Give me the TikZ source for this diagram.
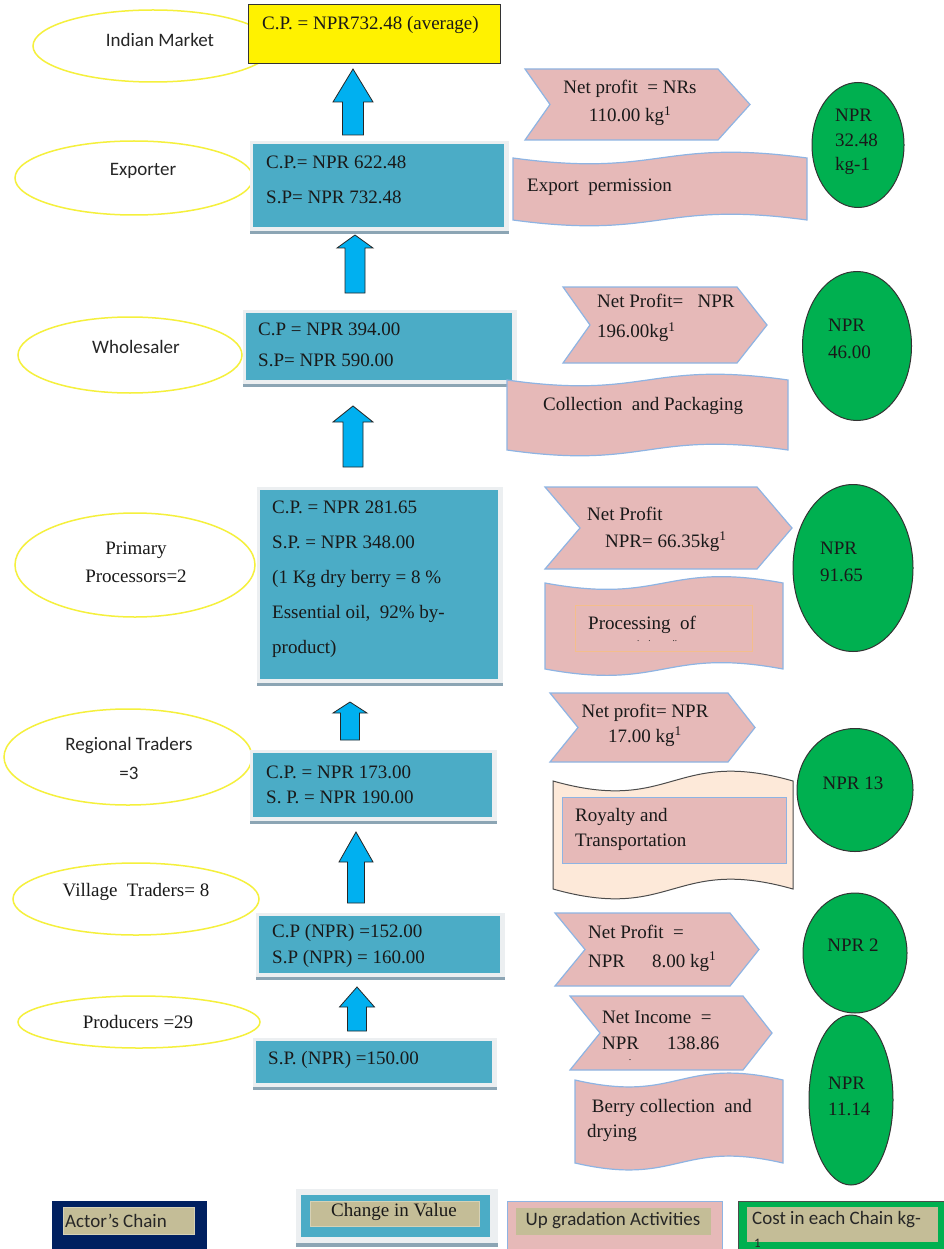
\documentclass[tikz,border=0pt]{standalone}
\usepackage{fontspec}
\setmainfont{Liberation Serif}
\newfontfamily\calib{Carlito}
\usetikzlibrary{shapes.geometric}
\definecolor{boxblue}{RGB}{75,172,198}
\definecolor{arrblue}{RGB}{0,176,240}
\definecolor{pinkf}{RGB}{230,185,184}
\definecolor{pinkl}{RGB}{142,180,227}
\definecolor{greenf}{RGB}{0,176,80}
\definecolor{yellowl}{RGB}{245,240,60}
\definecolor{peach}{RGB}{253,233,217}
\definecolor{navy}{RGB}{0,32,96}
\definecolor{tanf}{RGB}{196,189,151}
\definecolor{framec}{RGB}{236,239,241}
\definecolor{shadowc}{RGB}{140,165,180}
\definecolor{orangel}{RGB}{244,190,140}
\newcommand\fs[1]{\fontsize{19}{#1}\selectfont}
\newcommand\bbox[5]{%
  \fill[framec] ({#2-3},{#3-3}) rectangle ({#4+5},{#5+7});
  \fill[shadowc] ({#2-3},{#5+4}) rectangle ({#4+5},{#5+7});
  \node[bluebox,anchor=north west,minimum width={#4-#2},minimum height={#5-#3}] (#1) at (#2,#3) {};}
\newcommand\blockarrow[6]{%
  \draw[arrowst] ({#1-#6},#4) -- ({#1-#6},#3) -- ({#1-#5},#3) -- (#1,#2) -- ({#1+#5},#3) -- ({#1+#6},#3) -- ({#1+#6},#4) -- cycle;}
\newcommand\chev[6]{%
  \draw[chevst] (#1,#2) -- (#6,#2) -- (#5,{(#2+#3)/2}) -- (#6,#3) -- (#1,#3) -- (#4,{(#2+#3)/2}) -- cycle;}
\newcommand\wave[6]{%
  \draw[#6] (#1,#2) .. controls ({(#1+#3)/2},{#2+#5}) and ({(#1+#3)/2},{#2-#5}) .. (#3,#2) -- (#3,#4) .. controls ({(#1+#3)/2},{#4-#5}) and ({(#1+#3)/2},{#4+#5}) .. (#1,#4) -- cycle;}
\tikzset{
  yell/.style={ellipse, draw=yellowl, line width=1.5pt, inner sep=0},
  grel/.style={ellipse, draw=black!80, fill=greenf, line width=1pt, inner sep=0},
  bluebox/.style={rectangle, fill=boxblue, inner sep=0},
  arrowst/.style={fill=arrblue, draw=black!85, line width=0.8pt, line join=miter},
  chevst/.style={fill=pinkf, draw=pinkl, line width=1.2pt},
  wavepink/.style={fill=pinkf, draw=pinkl, line width=1.2pt},
  wavepeach/.style={fill=peach, draw=black!70, line width=1pt},
  txt/.style={inner sep=0, font=\fs{23}, text=black!90},
  stxt/.style={inner sep=0, font=\calib\fs{23}, text=black!85},
}
\begin{document}
\begin{tikzpicture}[x=1pt,y=-1pt]
\useasboundingbox (0,0) rectangle (943,1249);
\fill[white] (0,0) rectangle (943,1249);

% actor ellipses
\node[yell, minimum width=240, minimum height=72] (eIM) at (153,46) {};
\node[yell, minimum width=238, minimum height=74] (eEX) at (134,178) {};
\node[yell, minimum width=224, minimum height=76] (eWH) at (130,355) {};
\node[yell, minimum width=240, minimum height=104] (ePP) at (135,565) {};
\node[yell, minimum width=248, minimum height=96] (eRT) at (128,757) {};
\node[yell, minimum width=246, minimum height=72] (eVT) at (136,899) {};
\node[yell, minimum width=242, minimum height=52] (ePR) at (139,1022) {};

% yellow market box
\node[rectangle, fill=yellow, draw=black!80, line width=1pt, anchor=north west, minimum width=252, minimum height=59, inner sep=0] (bIM) at (248,4) {};

% value boxes
\bbox{bEX}{253}{144}{504}{227}
\bbox{bWH}{246}{313}{512}{380}
\bbox{bPP}{260}{490}{498}{679}
\bbox{bRT}{253}{753}{492}{817}
\bbox{bVT}{259}{916}{500}{973}
\bbox{bPR}{256}{1041}{492}{1083}

% block arrows
\blockarrow{353}{69}{102}{135}{20}{10.5}
\blockarrow{355}{235}{248}{293}{18}{10}
\blockarrow{353}{406}{422}{467}{20}{10}
\blockarrow{350}{702}{713}{740}{17}{9.5}
\blockarrow{356}{832}{862}{903}{17}{8.5}
\blockarrow{357}{987}{1007}{1031}{17.5}{9.5}

% chevrons
\chev{525}{69}{140}{550}{750}{718}
\chev{563}{287}{363}{590}{767}{737}
\chev{545}{487}{569}{580}{792}{757}
\chev{550}{693}{762}{578}{755}{728}
\chev{555}{913}{986}{585}{759}{730}
\chev{570}{996}{1070}{600}{772}{743}

% wave banners
\wave{513}{158}{807}{220}{20}{wavepink}
\wave{507}{380}{788}{450}{20}{wavepink}
\wave{545}{583}{783}{669}{22}{wavepink}
\wave{553}{781}{793}{889}{34}{wavepeach}
\wave{575}{1080}{783}{1163}{24}{wavepink}
\node[rectangle, draw=orangel, line width=0.6pt, anchor=north west, minimum width=177, minimum height=46, inner sep=0] (rPO) at (575,605) {};
\node[rectangle, fill=pinkf, draw=pinkl, line width=1.2pt, anchor=north west, minimum width=224, minimum height=66, inner sep=0] (rRT) at (562,797) {};

% cost ellipses
\node[grel, minimum width=92, minimum height=125] (gEX) at (858,145) {};
\node[grel, minimum width=109, minimum height=149] (gWH) at (857,346) {};
\node[grel, minimum width=120, minimum height=167] (gPP) at (853,568) {};
\node[grel, minimum width=116, minimum height=123] (gRT) at (855,790) {};
\node[grel, minimum width=104, minimum height=120] (gVT) at (855,953) {};
\node[grel, minimum width=84, minimum height=170] (gPR) at (851,1100) {};

% ellipse texts
\node[stxt] (tIM) at (160,40) {Indian Market};
\node[stxt] (tEX) at (143,171) {Exporter};
\node[stxt] (tWH) at (136,347) {Wholesaler};
\node[txt, align=center, font=\fs{28}] (tPP) at (136,562) {Primary\\Processors=2};
\node[stxt, align=center, font=\calib\fs{29}] (tRT) at (129,758) {Regional Traders\\=3};
\node[txt] (tVT) at (136,892) {Village\ \ Traders= 8};
\node[txt] (tPR) at (138,1022) {Producers =29};

% box texts
\node[txt, anchor=west] (xIM) at (262,25) {C.P. = NPR732.48 (average)};
\node[txt, anchor=west, align=left, font=\fs{35}] (xEX) at (266,179.5) {C.P.= NPR 622.48\\S.P= NPR 732.48};
\node[txt, anchor=west, align=left, font=\fs{31}] (xWH) at (258,344.5) {C.P = NPR 394.00\\S.P= NPR 590.00};
\node[txt, anchor=west, align=left, font=\fs{35}] (xPP) at (272,579) {C.P. = NPR 281.65\\S.P. = NPR 348.00\\(1 Kg dry berry = 8 \%\\Essential oil,\ \ 92\% by-\\product)};
\node[txt, anchor=west, align=left, font=\fs{25}] (xRT) at (266,784.5) {C.P. = NPR 173.00\\S. P. = NPR 190.00};
\node[txt, anchor=west, align=left, font=\fs{26}] (xVT) at (272,946) {C.P (NPR) =152.00\\S.P (NPR) = 160.00};
\node[txt, anchor=west] (xPR) at (268,1060) {S.P. (NPR) =150.00};

% chevron texts
\node[txt, align=center, font=\fs{28}] (cEX) at (630,103) {Net profit\ \ = NRs\\110.00 kg\textsuperscript{1}};
\node[txt, anchor=west, align=left, font=\fs{30}] (cWH) at (597,318) {Net Profit=\ \ \ NPR\\196.00kg\textsuperscript{1}};
\node[txt, anchor=west, align=left, font=\fs{27}] (cPP) at (587,529) {Net Profit\\\hspace{18pt}NPR= 66.35kg\textsuperscript{1}};
\node[txt, align=center, font=\fs{25}] (cRT) at (645,725) {Net profit= NPR\\17.00 kg\textsuperscript{1}};
\node[txt, anchor=west, align=left, font=\fs{29}] (cVT) at (588,948) {Net Profit\ \ =\\NPR\hspace{27pt}8.00 kg\textsuperscript{1}};
\node[txt, anchor=west, align=left, font=\fs{26}] (cPR) at (602,1030) {Net Income\ \ =\\NPR\hspace{28pt}138.86};
\node[txt, font=\fontsize{10}{10}\selectfont] (cPRd) at (630,1060) {.};

% banner texts
\node[txt, anchor=west] (wEX) at (527,187) {Export\ \ permission};
\node[txt, anchor=west] (wWH) at (543,406) {Collection\ \ and Packaging};
\node[txt, anchor=west] (wPP) at (588,625) {Processing\ \ of};
\node[txt, anchor=west, font=\fontsize{9}{9}\selectfont] (wPPd) at (637,641) {.\hspace{9pt}.\hspace{22pt}..};
\node[txt, anchor=west, align=left, font=\fs{25}] (wRT) at (575,829.5) {Royalty\ and\\Transportation};
\node[txt, anchor=west, align=left, font=\fs{25}] (wPR) at (587,1120.5) {\ Berry collection\ \ and\\drying};

% cost texts
\node[txt, anchor=west, align=left, font=\fs{24.5}] (gtEX) at (835,142) {NPR\\32.48\\kg-1};
\node[txt, anchor=west, align=left, font=\fs{27}] (gtWH) at (828,338.5) {NPR\\46.00};
\node[txt, anchor=west, align=left, font=\fs{27}] (gtPP) at (820,561.5) {NPR\\91.65};
\node[txt] (gtRT) at (853,783) {NPR 13};
\node[txt] (gtVT) at (853,945) {NPR 2};
\node[txt, anchor=west, align=left, font=\fs{26}] (gtPR) at (828,1096) {NPR\\11.14};

% legend
\node[rectangle, fill=navy, anchor=north west, minimum width=155, minimum height=50, inner sep=0] (lA) at (52,1201) {};
\node[rectangle, fill=tanf, draw=tanf!70!white, line width=1pt, anchor=north west, minimum width=131, minimum height=27, inner sep=0] (lAi) at (63,1207) {};
\node[stxt, anchor=west] (lAt) at (65,1221) {Actor’s Chain};

\fill[framec] (296,1189) rectangle (498,1247);
\fill[shadowc] (296,1243) rectangle (498,1247);
\node[bluebox, anchor=north west, minimum width=189, minimum height=42] (lB) at (301,1195) {};
\node[rectangle, fill=tanf, draw=tanf!70!white, line width=1pt, anchor=north west, minimum width=169, minimum height=25, inner sep=0] (lBi) at (310,1201) {};
\node[txt] (lBt) at (394,1212) {Change in Value};

\node[rectangle, fill=pinkf, draw=pinkl, line width=1.2pt, anchor=north west, minimum width=215, minimum height=50, inner sep=0] (lC) at (507,1201) {};
\node[rectangle, fill=tanf, anchor=north west, minimum width=195, minimum height=27, inner sep=0] (lCi) at (516,1208) {};
\node[stxt] (lCt) at (613,1221) {Up gradation Activities};

\node[rectangle, fill=greenf, draw=black!70, line width=1pt, anchor=north west, minimum width=210, minimum height=50, inner sep=0] (lD) at (738,1201) {};
\node[rectangle, fill=tanf, anchor=north west, minimum width=191, minimum height=35, inner sep=0] (lDi) at (747,1207) {};
\node[stxt, anchor=west] (lDt) at (752,1220) {Cost in each Chain kg-};
\node[stxt, anchor=west, font=\calib\fontsize{13}{13}\selectfont] (lDt2) at (754,1243) {1};
\end{tikzpicture}
\end{document}
